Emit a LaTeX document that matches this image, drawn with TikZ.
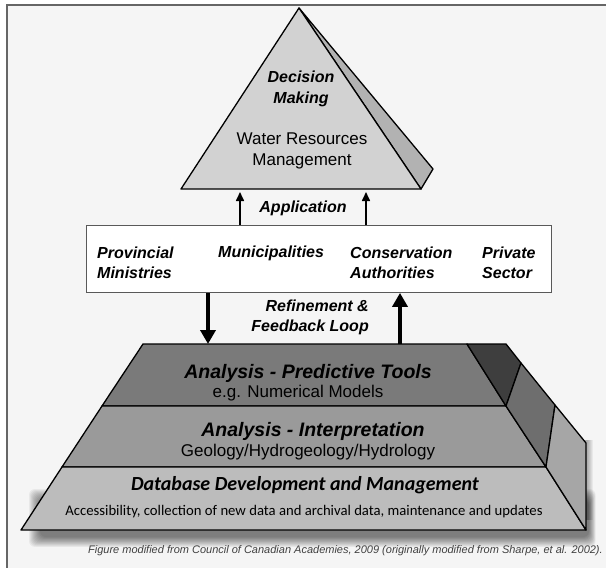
\documentclass[tikz,border=0pt]{standalone}
\usepackage{fontspec}
\setmainfont{Liberation Sans}
\newfontfamily\calibrifont{Carlito}
\usetikzlibrary{arrows.meta}

\definecolor{paper}{HTML}{F5F5F5}
\definecolor{triFront}{HTML}{D2D2D2}
\definecolor{triSide}{HTML}{B2B2B2}
\definecolor{layerOne}{HTML}{7A7A7A}
\definecolor{layerTwo}{HTML}{9A9A9A}
\definecolor{layerThree}{HTML}{BCBCBC}
\definecolor{sideOne}{HTML}{3E3E3E}
\definecolor{sideTwo}{HTML}{6E6E6E}
\definecolor{sideThree}{HTML}{A6A6A6}

\begin{document}
\begin{tikzpicture}
	[x=1pt,y=-1pt,
	Face/.style={draw=black,line width=1.3pt,line join=round},
	Heading/.style={font=\fontsize{16}{20}\selectfont\bfseries\itshape,inner sep=0pt,align=left},
	Plain/.style={font=\fontsize{17}{21}\selectfont,inner sep=0pt},
	LayerHead/.style={font=\fontsize{19.5}{22}\selectfont\bfseries\itshape,inner sep=0pt},
	AppArrow/.style={line width=1.6pt,-{Triangle[length=9pt,width=8pt]}},
	LoopArrow/.style={line width=4pt,-{Triangle[length=14pt,width=15pt]}}]
	
	% 画布与外框
	\useasboundingbox (0,0) rectangle (606,568);
	\fill[white] (0,0) rectangle (606,568);
	\draw[fill=paper,draw=gray!80!black,line width=1.8pt] (7,5) rectangle (620,580);
	
	% 顶部三角形 (决策)
	\coordinate (apex) at (299,8);
	\coordinate (triL) at (181,189);
	\coordinate (triR) at (421,189);
	\coordinate (triS) at (433,169);
	\draw[Face,fill=triSide] (apex)--(triS)--(triR)--cycle;
	\draw[Face,fill=triFront] (apex)--(triR)--(triL)--cycle;
	\node[Heading,align=center,font=\fontsize{16}{21}\selectfont\bfseries\itshape] (decision) at (301,89) {Decision\\Making};
	\node[Plain,align=center] (water) at (302,151) {Water Resources\\Management};
	
	% 中间机构框
	\node[draw=gray!70!black,line width=0.9pt,fill=white,anchor=north west,
		minimum width=465pt,minimum height=67pt,inner sep=0pt] (orgbox) at (86,225) {};
	\node[Heading,anchor=west] (prov) at (97,263) {Provincial\\Ministries};
	\node[Heading,anchor=west] (muni) at (218,253) {Municipalities};
	\node[Heading,anchor=west] (cons) at (350,263) {Conservation\\Authorities};
	\node[Heading,anchor=west] (priv) at (482,263) {Private\\Sector};
	
	% Application 箭头
	\coordinate (appA) at (240,192);
	\coordinate (appB) at (366,192);
	\node[Heading] (app) at (303,208) {Application};
	\foreach \c in {appA,appB}
	\draw[AppArrow] (orgbox.north -| \c) -- (\c);
	
	% 阴影
	\foreach \i in {0,...,11}
	\fill[black,opacity=0.05,rounded corners=6pt] (40-\i,500-\i) rectangle (589+\i*0.6,537+\i*0.9);
	\foreach \i in {0,...,5}
	\fill[black,opacity=0.05] (583,440) rectangle (588+\i,520);
	
	% 底部金字塔 正面三层
	\draw[Face,fill=layerOne] (143,344)--(467,344)--(506,406)--(102,406)--cycle;
	\draw[Face,fill=layerTwo] (102,406)--(506,406)--(546,467)--(62,467)--cycle;
	\draw[Face,fill=layerThree] (62,467)--(546,467)--(586,530)--(21,530)--cycle;
	
	% 金字塔 侧面
	\draw[Face,fill=sideOne] (467,344)--(506,344)--(521,363)--(506,406)--cycle;
	\draw[Face,fill=sideTwo] (521,363)--(555,405)--(546,467)--(506,406)--cycle;
	\draw[Face,fill=sideThree] (555,405)--(586,443)--(586,530)--(546,467)--cycle;
	
	% 反馈箭头
	\coordinate (loopDown) at (208,344);
	\coordinate (loopUp) at (400,344);
	\draw[LoopArrow] (orgbox.south -| loopDown) -- (loopDown);
	\draw[LoopArrow] (loopUp) -- (orgbox.south -| loopUp);
	\node[Heading,align=right,anchor=east] (loop) at (369,317) {Refinement \&\\Feedback Loop};
	
	% 各层文字
	\node[LayerHead] (predict) at (308,373) {Analysis - Predictive Tools};
	\node[Plain] (models) at (298,393) {e.g. Numerical Models};
	\node[LayerHead] (interp) at (313,431) {Analysis - Interpretation};
	\node[Plain] (geo) at (308,452) {Geology/Hydrogeology/Hydrology};
	\node[LayerHead,font=\calibrifont\fontsize{20}{22}\selectfont\bfseries\itshape] (db) at (305,485) {Database Development and Management};
	\node[inner sep=0pt,font=\calibrifont\fontsize{14.7}{17}\selectfont] (access) at (304,512) {Accessibility, collection of new data and archival data, maintenance and updates};
	
	% 来源说明
	\node[inner sep=0pt,anchor=east,text=black!75,font=\fontsize{11}{13}\selectfont\itshape] (source) at (603,551) {Figure modified from Council of Canadian Academies, 2009 (originally modified from Sharpe, et al. 2002).};
	
\end{tikzpicture}
\end{document}
